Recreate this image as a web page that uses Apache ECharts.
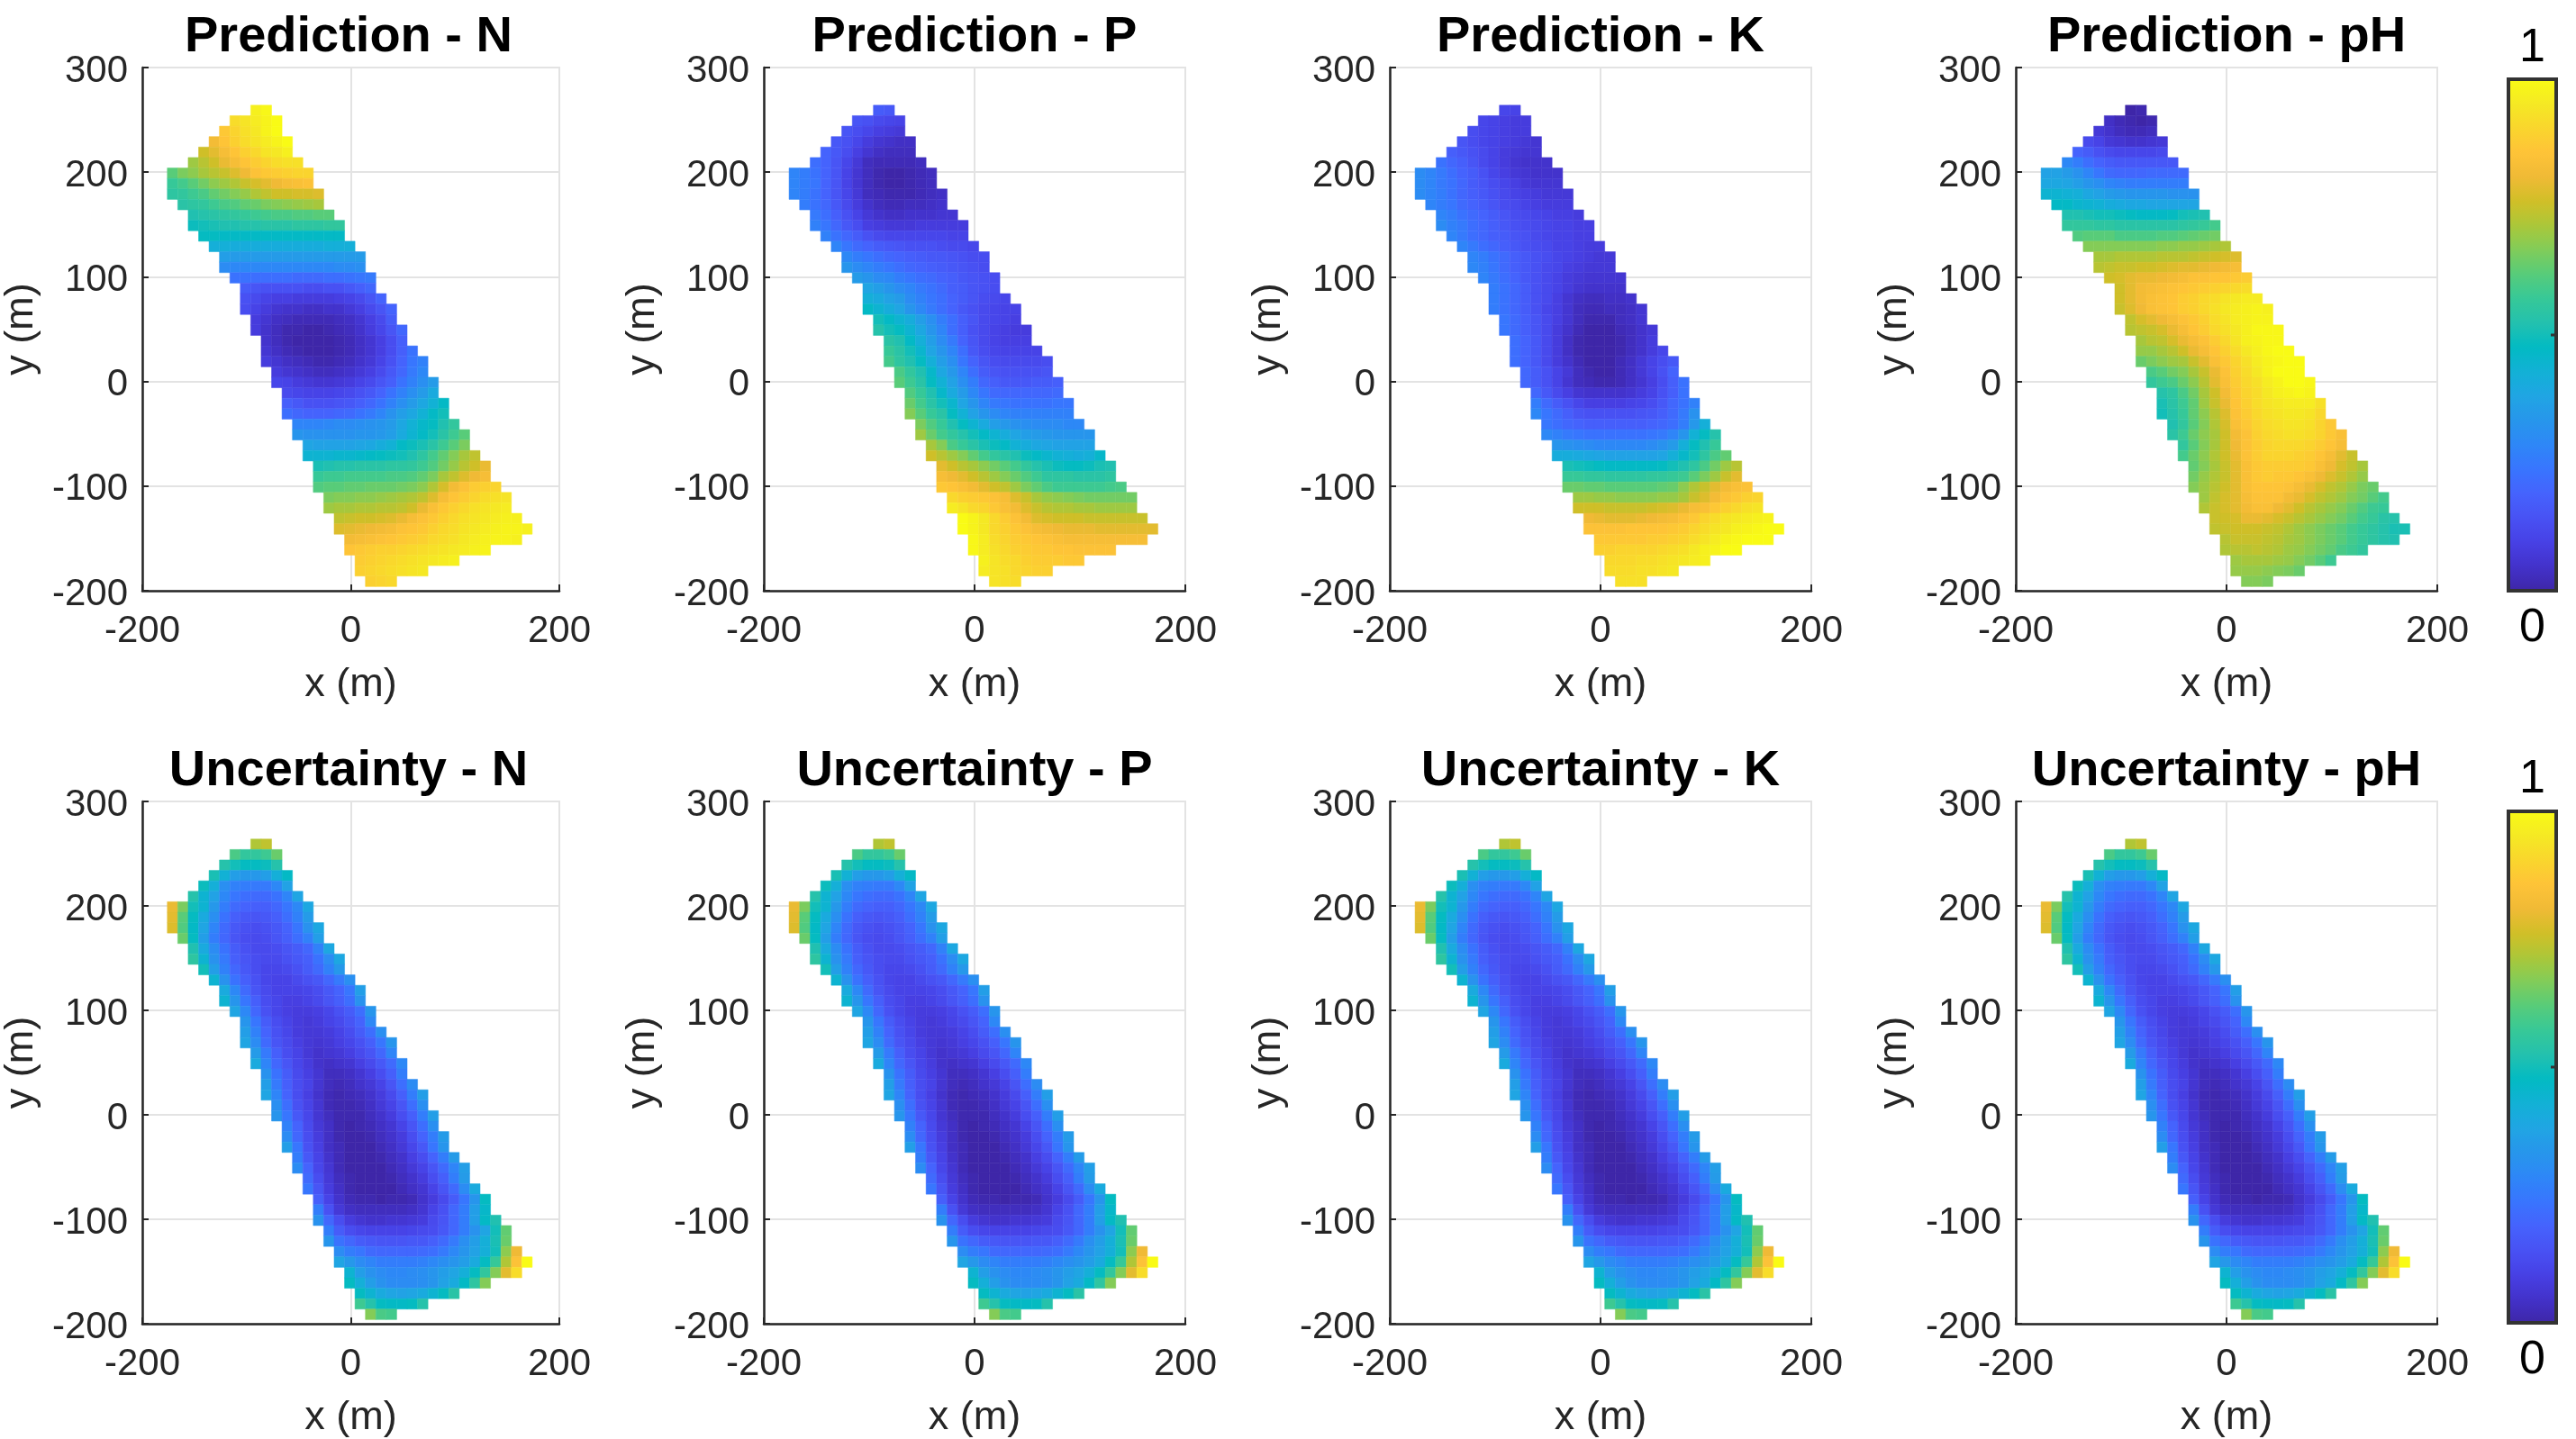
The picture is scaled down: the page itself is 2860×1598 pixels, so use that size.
<!DOCTYPE html>
<html>
<head>
<meta charset="utf-8">
<title>Prediction and uncertainty maps</title>
<script src="https://cdn.jsdelivr.net/npm/echarts@6/dist/echarts.min.js"></script>
<style>
	html, body { margin: 0; padding: 0; background: #fff; }
	#chart { width: 2860px; height: 1598px; }
</style>
</head>
<body>
<div id="chart"></div>
<script>
// x of the first cell in each map row, rows run from y = 259 down in 10 m steps
const rowFirstX = [-91,-111,-121,-131,-141,-151,-171,-171,-171,-161,-151,-151,-141,-131,-121,-121,-111,-101,-101,-101,-91,-91,-81,-81,-81,-71,-71,-61,-61,-61,-51,-51,-41,-41,-31,-31,-31,-21,-21,-11,-11,-1,-1,9,9,19]
const rowTopY = 259

const predN = [
[97,99],
[92,94,96,98,100],
[87,90,93,95,98,100],
[82,86,89,92,94,96,98,100],
[76,79,83,86,89,91,94,95,97],
[70,73,76,80,83,86,88,90,92,93,93],
[62,66,68,71,73,75,78,81,85,87,88,89,90,90],
[57,59,62,65,68,70,72,75,77,79,81,83,84,85],
[55,56,58,60,63,65,67,69,72,74,76,76,77,77,78],
[54,55,56,58,60,61,63,64,66,67,68,69,70,71],
[52,53,54,55,56,57,58,59,60,60,61,61,62,62],
[49,50,51,52,52,53,53,54,54,54,55,55,55,56,56],
[48,48,47,47,47,47,47,47,47,47,47,47,47,47],
[42,42,41,41,41,41,41,41,41,41,41,42,42,42],
[36,35,35,35,35,35,35,35,35,35,35,35,35,35],
[30,29,29,29,29,29,29,29,29,29,29,30,30,31],
[23,23,22,22,22,22,21,21,21,22,22,23,24,25],
[17,15,14,14,14,14,13,13,14,14,16,18,20],
[14,12,10,9,9,8,8,8,8,9,10,12,15,19],
[13,10,8,6,5,5,4,4,5,5,7,9,12,15,19],
[8,6,4,3,2,2,2,2,3,4,6,9,12,17],
[8,5,3,1,1,0,0,1,2,3,5,8,11,15,20],
[5,3,1,0,0,0,0,1,2,4,6,9,13,18],
[6,4,2,1,0,0,0,1,2,4,6,9,13,18,23],
[8,6,4,3,2,1,1,2,3,5,7,10,14,19,24,27],
[8,6,5,4,3,3,4,5,7,9,12,16,20,25,29],
[11,10,8,7,6,6,7,8,10,12,15,18,23,27,31,35],
[12,11,10,10,10,11,12,14,16,19,23,27,31,35,40],
[18,16,14,14,14,15,16,18,20,23,27,31,35,39,43,47],
[22,20,19,19,19,20,21,23,25,28,32,36,39,43,47,50],
[28,28,28,29,30,30,31,32,33,35,39,43,46,48,52,56],
[33,32,32,32,32,32,33,33,34,36,40,44,47,50,54,58,62],
[38,37,37,37,37,38,39,41,43,47,49,51,54,58,62,66],
[44,44,44,45,45,46,47,48,49,50,52,55,59,63,67,71,74],
[51,52,53,53,54,54,54,55,55,56,58,61,65,69,73,76,80],
[57,58,58,59,59,59,59,60,60,61,63,66,71,74,78,81,83],
[61,62,62,63,63,64,64,64,65,66,68,72,77,82,85,88,89,90],
[66,67,67,68,68,69,70,71,72,74,78,83,86,88,90,92,93,94],
[70,71,71,72,72,73,73,74,76,80,84,87,89,91,93,94,95,96],
[74,75,76,76,77,78,80,83,85,87,89,91,93,94,95,96,97,97],
[78,79,80,81,82,83,85,86,87,89,91,92,94,95,96,97,98,98,97],
[82,83,84,85,86,87,88,89,91,92,93,95,96,97,98,98,97],
[86,87,88,89,89,90,91,92,93,94,95,96,97,98],
[88,89,90,91,92,93,94,95,96,97],
[89,90,91,92,93,94,95],
[89,90,91]
]

const predP = [
[17,16],
[15,14,12,11,10],
[15,13,11,9,8,7],
[16,14,11,8,6,5,4,4],
[19,16,13,9,6,4,3,3,3],
[22,19,15,11,7,3,2,2,2,2,3],
[28,26,23,19,15,10,6,3,1,0,0,1,2,3],
[28,26,24,19,15,10,6,3,1,0,0,1,2,3],
[28,26,23,19,15,11,7,3,2,1,1,1,2,3,4],
[26,23,20,16,12,8,5,3,2,2,3,3,4,5],
[25,22,18,14,10,7,5,4,4,5,5,5,6,6],
[27,24,20,16,13,9,8,7,7,7,8,8,8,8,8],
[27,23,20,17,14,12,11,11,11,11,11,11,10,10],
[28,24,21,19,17,16,15,14,14,14,13,12,12,11],
[29,26,24,22,20,19,18,17,16,16,15,14,13,13],
[33,30,28,26,24,22,20,19,18,17,16,15,14,13],
[35,33,30,29,26,24,22,21,19,18,16,15,14,13],
[38,36,33,30,28,25,23,21,18,17,15,14,13],
[42,40,37,35,30,27,24,22,19,17,15,13,12,11],
[47,44,41,38,33,29,25,22,19,16,14,12,11,10,10],
[50,47,44,41,36,31,26,22,18,15,12,11,10,9],
[53,50,48,44,39,33,28,22,18,14,12,10,9,8,8],
[54,52,47,42,36,30,25,19,15,12,10,9,9,9],
[57,54,50,45,38,33,28,22,16,13,11,10,10,10,10],
[59,55,52,48,42,36,31,24,19,15,13,12,12,12,12,13],
[60,56,52,46,39,34,28,22,17,15,14,14,14,14,15],
[62,58,54,48,43,37,31,26,20,18,16,16,16,17,17,18],
[61,57,52,46,40,35,29,24,21,20,20,20,20,20,21],
[64,59,54,50,45,38,33,28,25,24,23,23,23,23,24,24],
[67,62,57,54,48,43,37,33,30,28,27,27,27,27,27,27],
[66,61,57,52,48,44,40,36,34,32,31,30,30,30,29,29],
[70,64,59,56,53,50,47,44,41,38,36,35,34,33,33,33,33],
[71,67,60,57,54,51,49,47,43,41,39,38,37,37,37,37],
[76,73,70,67,63,59,56,54,52,49,47,45,43,42,41,42,46],
[79,76,73,71,68,65,62,59,56,53,51,49,48,48,49,51,52],
[83,81,79,76,73,70,67,64,61,58,55,55,55,54,54,54,55],
[87,86,84,82,79,76,74,70,66,63,60,58,58,58,58,58,59,60],
[91,89,88,87,85,83,78,75,71,69,68,67,66,65,65,65,65,65],
[96,94,91,90,87,84,82,78,75,73,72,72,71,71,70,70,70,70],
[100,98,95,91,88,85,82,78,77,76,76,76,75,75,75,75,75,75],
[100,98,95,91,89,87,85,83,82,81,80,80,80,79,79,79,79,79,79],
[99,96,92,90,88,87,86,85,84,83,83,83,83,83,83,83,83],
[99,96,93,91,89,88,87,87,86,86,85,85,85,85],
[97,94,92,91,89,88,88,88,87,87],
[96,94,93,91,90,89,89],
[94,93,92]
]

const predK = [
[11,10],
[11,10,9,8,8],
[13,11,10,9,8,8],
[15,13,11,10,9,8,7,6],
[18,16,14,12,10,8,7,6,6],
[23,20,18,15,12,10,8,6,5,5,5],
[30,28,25,22,19,17,14,11,9,7,6,5,5,5],
[30,28,25,23,20,17,15,13,11,9,7,6,6,6],
[30,28,26,23,20,18,16,14,12,10,9,8,7,7,7],
[28,26,24,21,19,17,15,13,12,10,9,8,8,8],
[28,26,23,21,19,17,15,13,12,11,10,9,9,8],
[30,27,25,22,20,18,16,14,13,12,11,10,10,9,9],
[28,25,22,20,18,17,15,14,12,11,10,10,9,9],
[28,25,22,20,18,16,14,13,12,10,10,9,8,8],
[28,26,23,21,18,16,14,13,11,10,9,8,7,7],
[29,27,24,21,18,16,14,12,11,9,8,7,7,7],
[28,25,22,19,16,14,12,10,8,7,6,6,6,6],
[26,23,20,17,14,12,10,8,6,5,5,5,5],
[26,23,20,17,14,12,9,6,4,3,3,4,4,5],
[26,23,20,17,14,11,9,6,3,2,2,3,3,4,6],
[24,21,18,15,12,9,6,3,1,1,1,3,4,6],
[24,21,18,15,12,8,5,2,0,0,0,2,3,5,7],
[22,19,16,12,8,4,1,0,0,0,1,3,5,8],
[22,19,16,12,8,4,1,0,0,0,1,3,5,8,11],
[22,19,16,12,8,5,2,0,0,0,2,4,7,10,13,16],
[20,17,14,10,7,3,1,0,0,2,4,7,10,14,19],
[20,17,14,10,6,3,2,1,1,2,4,6,9,13,18,23],
[20,16,12,9,6,5,5,5,5,6,8,10,14,18,23],
[26,21,17,14,11,9,9,9,9,10,11,13,16,20,23,27],
[29,24,21,18,15,14,14,14,14,14,15,16,18,21,25,32],
[24,22,20,19,18,18,18,18,18,18,19,20,22,26,34,42],
[29,27,25,24,23,23,23,23,23,23,24,25,28,33,43,48,53],
[33,32,31,30,29,29,29,29,29,30,32,35,42,48,52,57],
[41,41,40,39,38,37,37,37,37,37,38,42,46,50,55,60,63],
[51,50,49,48,47,47,47,47,47,48,50,52,55,60,65,70,73],
[57,57,56,56,55,55,55,55,56,56,57,58,62,66,70,75,79],
[64,64,63,63,62,62,62,62,62,63,64,68,72,75,79,82,84,85],
[70,70,69,69,68,68,68,68,69,69,71,75,78,82,85,87,89,90],
[76,76,76,75,75,75,75,76,77,78,80,83,84,87,89,91,93,94],
[81,80,79,79,79,80,81,82,83,85,87,90,92,94,95,96,97,98],
[85,85,85,85,86,86,86,86,87,88,90,92,94,95,97,98,99,100,100],
[87,87,87,87,87,88,88,89,90,92,94,96,98,99,100,100,100],
[89,89,90,90,90,90,91,92,93,95,97,98,100,100],
[91,91,91,92,92,93,94,95,96,97],
[92,92,92,93,93,94,95],
[93,93,93]
]

const predPH = [
[0,1],
[4,2,1,0,1],
[7,5,3,2,2,3],
[12,10,7,6,5,5,6,7],
[19,17,14,12,11,11,11,11,12],
[29,26,22,19,17,16,16,16,16,16,16],
[37,37,35,32,28,24,21,20,20,20,21,21,21,21],
[39,39,38,36,33,31,28,27,26,26,26,26,26,26],
[44,44,43,42,39,37,35,34,33,33,33,33,32,32,32],
[47,47,45,44,43,41,40,39,39,38,38,38,38,38],
[52,52,51,50,50,49,48,47,47,47,48,50,51,52],
[56,56,56,55,55,54,54,54,54,54,54,55,56,57,59],
[61,62,62,62,60,60,60,60,61,61,62,63,64,65],
[67,67,67,67,67,67,67,68,68,69,69,70,71,72],
[71,71,72,72,72,72,73,73,73,74,75,76,77,78],
[73,74,75,75,76,76,77,78,79,79,80,81,82,83],
[76,77,79,80,80,81,82,83,85,85,86,86,87,88],
[76,79,82,83,84,85,86,87,88,89,90,91,92],
[76,79,82,84,85,86,88,89,91,92,94,95,96,96],
[75,78,81,84,85,86,88,89,91,93,95,96,97,98,97],
[74,77,79,81,83,85,87,89,92,94,96,97,98,98],
[73,74,75,77,80,83,86,88,91,93,95,97,99,99,99],
[71,73,74,77,80,83,85,88,91,94,97,98,99,99],
[69,69,71,73,76,80,83,86,89,92,95,97,99,100,100],
[64,66,68,70,71,75,79,84,87,90,93,96,98,99,100,100],
[60,62,65,67,71,75,80,85,89,92,95,98,100,100,100],
[56,58,60,64,68,73,79,84,88,91,93,96,98,100,100,99],
[53,55,60,65,71,76,82,87,90,92,95,97,98,99,98],
[51,54,58,63,70,75,80,86,89,92,94,95,96,96,96,93],
[50,53,57,63,68,73,78,85,88,91,93,94,95,95,94,91],
[52,56,62,67,72,77,84,87,90,92,93,94,94,93,90,87],
[54,58,64,68,71,76,82,85,89,91,92,93,93,92,90,87,84],
[56,62,67,71,76,81,85,88,90,91,91,91,90,88,86,83],
[59,64,68,72,76,80,85,88,90,90,90,89,88,86,83,79,75],
[63,67,71,75,79,84,87,88,88,88,88,87,84,81,77,74,71],
[65,69,72,75,79,84,87,88,87,87,86,84,81,78,75,72,69],
[67,70,73,76,79,84,86,86,86,85,83,80,77,74,72,69,66,64],
[70,74,77,79,83,85,85,85,82,80,77,74,72,70,67,65,62,59],
[72,75,77,79,82,84,84,81,79,76,73,71,69,67,64,61,58,57],
[75,76,77,80,80,79,77,75,73,71,69,67,65,62,59,57,54,53],
[74,75,76,76,76,75,74,72,70,68,66,64,62,59,57,55,53,51,51],
[73,75,75,75,74,73,71,70,68,66,64,62,59,57,55,53,52],
[72,73,73,74,73,72,70,69,67,65,63,60,58,56],
[70,71,71,71,70,69,67,65,62,58],
[69,69,69,68,67,66,64],
[67,67,66]
]

// the four uncertainty maps read the same, so they share one table
const uncertainty = [
[72,74],
[60,56,56,58,64],
[53,50,48,48,49,53],
[51,43,36,34,34,36,42,47],
[49,42,31,27,26,25,25,29,37],
[53,44,37,29,24,22,21,21,23,28,38],
[80,66,50,44,34,26,21,19,18,18,20,24,29,39],
[79,62,48,40,31,23,18,16,15,16,18,22,27,35],
[78,61,47,38,28,21,16,14,13,14,16,19,24,32,39],
[64,48,36,26,20,15,13,12,13,15,18,22,27,36],
[52,40,30,23,17,14,12,12,13,15,17,20,27,39],
[55,44,32,25,18,15,13,12,12,14,16,18,23,30,39],
[50,36,27,20,16,13,11,11,12,14,17,21,27,34],
[44,32,23,18,14,11,10,10,12,14,16,20,25,31],
[40,29,21,15,12,10,10,10,11,13,16,19,24,36],
[44,33,24,18,13,11,9,9,10,12,15,18,22,32],
[38,29,20,14,11,9,8,8,9,11,14,17,22,33],
[33,24,17,13,10,8,7,8,10,12,15,19,29],
[36,27,19,14,11,8,7,7,8,10,13,17,22,31],
[38,30,21,15,12,9,7,6,7,9,11,14,18,24,33],
[35,25,18,13,10,7,5,6,7,9,12,15,20,28],
[40,28,20,15,11,8,5,4,5,6,9,12,16,21,29],
[32,23,17,12,9,6,3,3,4,6,9,13,18,26],
[36,25,18,13,10,6,3,2,3,5,7,10,15,22,30],
[38,28,19,13,9,5,2,1,2,3,5,8,12,18,26,36],
[31,22,14,10,6,2,1,1,2,4,7,10,15,22,31],
[33,24,16,11,6,3,1,1,1,3,5,8,13,18,26,36],
[27,19,12,7,4,1,0,1,2,4,6,10,15,22,31],
[30,20,13,8,4,1,0,0,1,3,5,8,13,19,26,35],
[36,24,14,9,4,2,0,0,0,2,4,7,11,16,24,33],
[26,16,10,5,2,0,0,0,1,3,5,9,13,19,26,35],
[30,19,11,6,2,0,0,0,0,2,4,7,10,15,21,28,36],
[21,13,7,3,1,0,0,0,1,3,5,8,13,18,26,35],
[24,15,8,4,1,0,0,0,0,2,4,6,10,15,21,30,40],
[18,10,5,2,1,1,0,1,1,2,5,8,12,17,24,33,48],
[26,14,7,4,3,3,3,3,3,4,6,10,14,20,26,36,46],
[32,20,13,8,6,5,5,6,6,7,8,12,15,20,26,36,47,52],
[26,17,13,11,10,10,10,10,11,12,13,16,20,26,32,38,50,63],
[33,23,20,17,16,15,15,15,16,16,18,21,25,31,36,42,51,64],
[30,26,24,21,20,20,20,20,21,22,25,29,33,37,42,50,68,81],
[38,34,30,28,26,26,26,26,27,29,31,33,36,40,48,57,72,85,100],
[44,36,32,30,29,29,30,31,33,36,38,42,48,56,67,79,92],
[48,42,36,32,30,30,30,31,33,37,40,47,55,67],
[48,44,40,38,37,38,40,44,48,54],
[58,53,48,47,47,48,53],
[67,60,59]
]

const titles = [
	"Prediction - N", "Prediction - P", "Prediction - K", "Prediction - pH",
	"Uncertainty - N", "Uncertainty - P", "Uncertainty - K", "Uncertainty - pH"
]
const tables = [predN, predP, predK, predPH, uncertainty, uncertainty, uncertainty, uncertainty]

const parula = [
	"#3E26A8", "#4332CB", "#4741E5", "#4852F4", "#4563FD", "#3875FE", "#2E87F7", "#2796EB",
	"#20A5E3", "#12B1D6", "#02BAC3", "#24C1AE", "#37C897", "#57CC7A", "#81CC59", "#ABC739",
	"#D1BF27", "#F0BA36", "#FEC338", "#FAD62D", "#F5E924", "#F9FB15"
]

const fontName = "Liberation Sans"
const inkColor = "#262626"
const gridColor = "#e3e3e3"
const cellSize = 10

const panelLeft = [153, 848, 1543, 2238]
const panelTop = [75, 890]
const panelWidth = 468
const panelHeight = 581

function tableToCells(table) {
	const cells = []
	table.forEach((row, j) => {
		row.forEach((value, i) => {
			cells.push([rowFirstX[j] + i * cellSize, rowTopY - j * cellSize, value])
		})
	})
	return cells
}

function renderCell(params, api) {
	const x = api.value(0)
	const y = api.value(1)
	const half = cellSize / 2
	const a = api.coord([x - half, y + half])
	const b = api.coord([x + half, y - half])
	const color = api.visual("color")
	return {
		type: "rect",
		shape: { x: a[0], y: a[1], width: b[0] - a[0], height: b[1] - a[1] },
		style: { fill: color, stroke: color, lineWidth: 0.5 }
	}
}

const grids = []
const xAxes = []
const yAxes = []
const series = []
const titleList = []

function axisCommon() {
	return {
		nameLocation: "middle",
		nameTextStyle: { fontFamily: fontName, fontSize: 45, color: inkColor },
		axisLine: { show: true, onZero: false, lineStyle: { color: inkColor, width: 2.5 } },
		axisTick: { show: true, inside: true, length: 7, lineStyle: { color: inkColor, width: 2 } },
		axisLabel: { fontFamily: fontName, fontSize: 42, color: inkColor },
		splitLine: { show: true, lineStyle: { color: gridColor, width: 2 } }
	}
}

titles.forEach((text, k) => {
	const left = panelLeft[k % 4]
	const top = panelTop[k < 4 ? 0 : 1]
	grids.push({
		left: left,
		top: top,
		width: panelWidth,
		height: panelHeight,
		show: true,
		borderColor: gridColor,
		borderWidth: 2,
		backgroundColor: "#fff"
	})
	const xAxis = Object.assign(axisCommon(), {
		gridIndex: k, type: "value", min: -200, max: 200, interval: 200,
		name: "x (m)", nameGap: 82
	})
	xAxis.axisLabel.margin = 24
	xAxes.push(xAxis)
	const yAxis = Object.assign(axisCommon(), {
		gridIndex: k, type: "value", min: -200, max: 300, interval: 100,
		name: "y (m)", nameGap: 112
	})
	// tick labels sit a little below their ticks in the reference
	yAxis.axisLabel.margin = 16
	yAxis.axisLabel.formatter = "{low|{value}}"
	yAxis.axisLabel.rich = {
		low: { fontFamily: fontName, fontSize: 42, color: inkColor, padding: [8, 0, 0, 0] }
	}
	yAxes.push(yAxis)
	titleList.push({
		text: text,
		left: left + panelWidth / 2 - 5,
		top: top - 66,
		textAlign: "center",
		textStyle: { fontFamily: fontName, fontSize: 56, fontWeight: "bold", color: "#000" }
	})
	series.push({
		type: "custom",
		xAxisIndex: k,
		yAxisIndex: k,
		renderItem: renderCell,
		dimensions: ["x", "y", "value"],
		encode: { x: 0, y: 1 },
		data: tableToCells(tables[k]),
		silent: true,
		animation: false
	})
})

const barLeft = 2785
const barWidth = 53
const barTop = [88, 901]
const barHeight = 568

function colorBar(seriesIndex, top) {
	return {
		type: "continuous",
		min: 0,
		max: 100,
		dimension: 2,
		seriesIndex: seriesIndex,
		calculable: false,
		realtime: false,
		left: barLeft,
		top: top,
		padding: 0,
		itemWidth: barWidth,
		itemHeight: barHeight,
		text: ["", ""],
		inRange: { color: parula }
	}
}

function barLabel(text, y) {
	return {
		type: "text",
		x: barLeft + barWidth / 2,
		y: y,
		silent: true,
		style: {
			text: text,
			fontFamily: fontName,
			fontSize: 52,
			fill: "#000",
			textAlign: "center",
			textVerticalAlign: "middle"
		}
	}
}

function barFrame(top) {
	return [
		{
			type: "rect",
			silent: true,
			z: 20,
			shape: { x: barLeft, y: top, width: barWidth, height: barHeight },
			style: { fill: "none", stroke: "#333", lineWidth: 4 }
		},
		{
			type: "line",
			silent: true,
			z: 20,
			shape: { x1: barLeft + barWidth - 6, y1: top + barHeight / 2, x2: barLeft + barWidth, y2: top + barHeight / 2 },
			style: { stroke: "#333", lineWidth: 3 }
		}
	]
}

const chart = echarts.init(document.getElementById("chart"), null, { renderer: "canvas" })
chart.setOption({
	animation: false,
	backgroundColor: "#fff",
	title: titleList,
	grid: grids,
	xAxis: xAxes,
	yAxis: yAxes,
	visualMap: [colorBar([0, 1, 2, 3], barTop[0]), colorBar([4, 5, 6, 7], barTop[1])],
	graphic: [
		barLabel("1", 54),
		barLabel("0", 698),
		barLabel("1", 866),
		barLabel("0", 1511)
	].concat(barFrame(barTop[0]), barFrame(barTop[1])),
	series: series
})
</script>
</body>
</html>
